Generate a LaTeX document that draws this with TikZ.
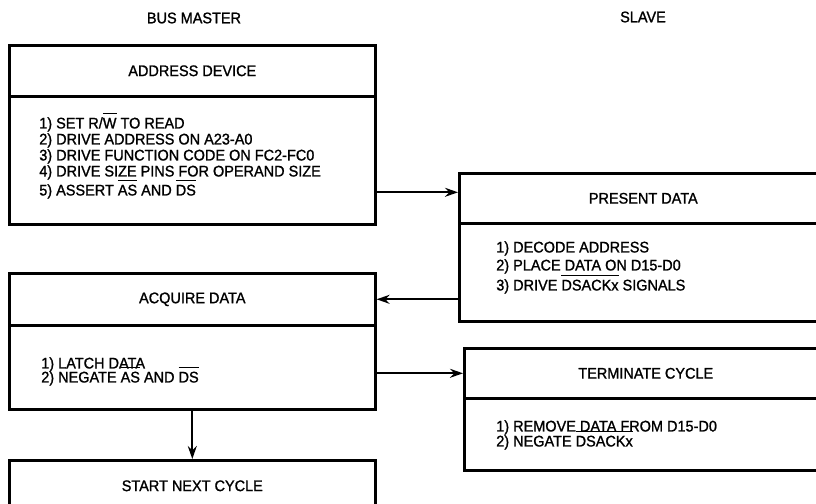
\documentclass[tikz,border=0pt]{standalone}
\usepackage{fontspec}
\setmainfont[FakeStretch=0.94, FakeBold=1.2]{Liberation Sans}
\usetikzlibrary{arrows.meta,positioning}

% active-low signal bar
\newsavebox\ovlbox
\newcommand{\ovl}[1]{\sbox\ovlbox{#1}\smash{\rlap{\rule[\dimexpr\ht\ovlbox+3.5pt\relax]{\wd\ovlbox}{1.4pt}}}\usebox\ovlbox}

\begin{document}
\begin{tikzpicture}[
  x=1pt, y=-1pt,
  line width=2.6pt,
  every node/.style={font=\fontsize{15.4}{16}\selectfont},
  head/.style={draw, anchor=north west, inner sep=0pt, minimum height=51pt},
  body/.style={draw, anchor=north west, inner sep=0pt},
  item/.style={anchor=north west, align=left, inner sep=0pt},
  link/.style={line width=1.7pt, -{Stealth[length=13pt, width=9pt]}}
]
  \clip (0,0) rectangle (816,503);

  % Column titles
  \node (master) at (194,18) {BUS MASTER};
  \node (slave) at (643,17) {SLAVE};

  % Bus master: address device
  \node[head, minimum width=366pt] (addrhead) at (8,44) {ADDRESS DEVICE};
  \node[body, minimum width=366pt, minimum height=128pt] (addrbody) at (8,95) {};
  \node[item] (addritems) at ([shift={(30,21)}]addrbody.north west)
    {1) SET R/\ovl{W} TO READ\\ 2) DRIVE ADDRESS ON A23-A0\\ 3) DRIVE FUNCTION CODE ON FC2-FC0\\
     4) DRIVE SIZE PINS FOR OPERAND SIZE\\[3pt] 5) ASSERT \ovl{AS} AND \ovl{DS}};

  % Slave: present data
  \node[head, minimum width=368pt, minimum height=50pt] (preshead) at (458,172) {PRESENT DATA};
  \node[body, minimum width=368pt, minimum height=98pt] (presbody) at (458,222) {};
  \node[item] (presitems) at ([shift={(37,18)}]presbody.north west)
    {1) DECODE ADDRESS\\[2pt] 2) PLACE DATA ON D15-D0\\[4pt] 3) DRIVE \ovl{DSACKx} SIGNALS};

  % Bus master: acquire data
  \node[head, minimum width=366pt, minimum height=52pt] (acqhead) at (8,272) {ACQUIRE DATA};
  \node[body, minimum width=366pt, minimum height=84pt] (acqbody) at (8,324) {};
  \node[item] (acqitems) at ([shift={(32,32)}]acqbody.north west)
    {1) LATCH DATA\\[-2pt] 2) NEGATE \ovl{AS} AND \ovl{DS}};

  % Slave: terminate cycle
  \node[head, minimum width=363pt, minimum height=50pt] (termhead) at (463,347) {TERMINATE CYCLE};
  \node[body, minimum width=363pt, minimum height=72pt] (termbody) at (463,397) {};
  \node[item] (termitems) at ([shift={(32,22)}]termbody.north west)
    {1) REMOVE DATA FROM D15-D0\\[-1pt] 2) NEGATE \ovl{DSACKx}};

  % Bus master: next cycle
  \node[head, minimum width=366pt] (starthead) at (8,459) {START NEXT CYCLE};

  % Handshake arrows
  \coordinate (addrout) at ([yshift=-32pt]addrbody.east);
  \draw[link] (addrout) -- (addrout -| preshead.west);
  \draw[link] (presbody.west |- acqhead.east) -- (acqhead.east);
  \draw[link] (acqbody.east |- termhead.west) -- (termhead.west);
  \draw[link] (acqbody.south) -- (starthead.north);
\end{tikzpicture}
\end{document}
